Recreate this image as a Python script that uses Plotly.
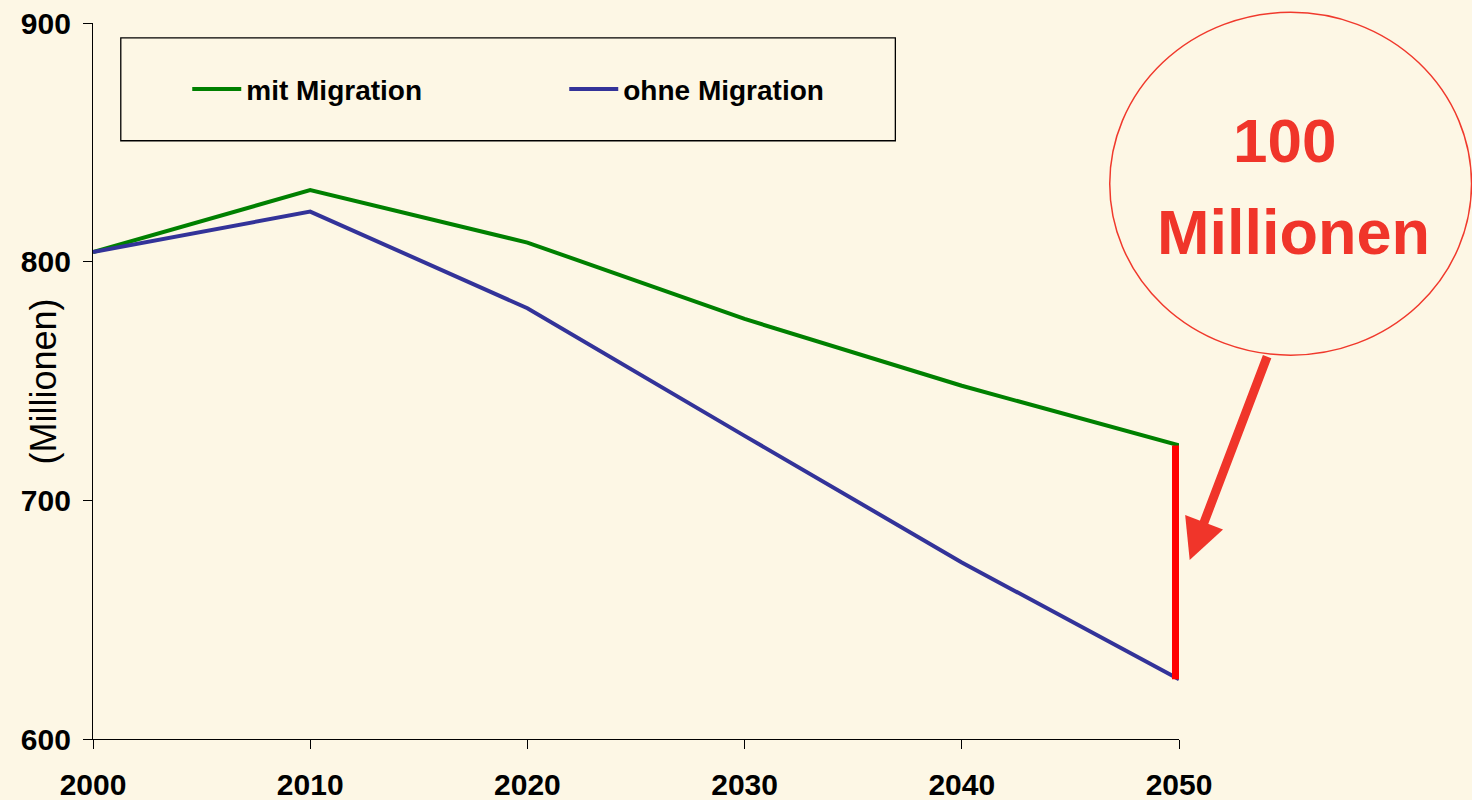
import plotly.graph_objects as go

years = [2000, 2010, 2020, 2030, 2040, 2050]
mit_migration = [804, 830, 808, 776, 748, 723]
ohne_migration = [804, 821, 780.5, 727, 674, 625]
y_ticks = [600, 700, 800, 900]
x_ticks = [2000, 2010, 2020, 2030, 2040, 2050]

BG = "#FDF7E5"
W, H = 1472, 800
L, R, T, B = 92.7, 1472 - 1179.3, 22.7, 800 - 739
PW, PH = W - L - R, H - T - B


def px(x):
    return (x - L) / PW


def py(y):
    return (H - B - y) / PH


fig = go.Figure()
fig.add_trace(go.Scatter(x=years, y=mit_migration, mode="lines", name="mit Migration",
                         line=dict(color="#008000", width=4)))
fig.add_trace(go.Scatter(x=years, y=ohne_migration, mode="lines", name="ohne Migration",
                         line=dict(color="#333399", width=4)))
# difference bar at the last year (half of it is clipped at the plot edge)
fig.add_trace(go.Scatter(x=[years[-1], years[-1]], y=[mit_migration[-1], ohne_migration[-1]],
                         mode="lines", showlegend=False, line=dict(color="#FF0000", width=14)))

tickfont = dict(family="Liberation Sans, Arial, sans-serif", size=30, color="black", weight="bold")

fig.update_layout(
    width=W, height=H,
    margin=dict(l=L, r=R, t=T, b=B, pad=0, autoexpand=False),
    paper_bgcolor=BG, plot_bgcolor=BG,
    showlegend=True,
    legend=dict(orientation="h", x=px(187), y=py(89), xanchor="left", yanchor="middle",
                xref="paper", yref="paper",
                bgcolor="rgba(0,0,0,0)", borderwidth=0,
                itemwidth=49,
                entrywidth=313, entrywidthmode="pixels",
                font=dict(family="Liberation Sans Narrow, Liberation Sans, Arial, sans-serif",
                          size=28, color="black", weight="bold")),
    xaxis=dict(range=[2000, 2050], tickvals=x_ticks, ticktext=[str(v) for v in x_ticks],
               showgrid=False, zeroline=False, showline=True, linecolor="black", linewidth=1.3,
               ticks="outside", ticklen=9, tickcolor="black", tickwidth=1.3, automargin=False,
               tickfont=tickfont, ticklabelstandoff=10, fixedrange=True),
    yaxis=dict(range=[600, 900], tickvals=y_ticks, ticktext=[str(v) for v in y_ticks],
               showgrid=False, zeroline=False, showline=True, linecolor="black", linewidth=1.3,
               ticks="outside", ticklen=9, tickcolor="black", tickwidth=1.3, automargin=False,
               tickfont=tickfont, ticklabelstandoff=6, fixedrange=True),
    shapes=[
        dict(type="rect", xref="paper", yref="paper", x0=px(120.5), x1=px(895.5), y0=py(140.5), y1=py(37.5),
             line=dict(color="black", width=1.3), fillcolor="rgba(0,0,0,0)", layer="above"),
        dict(type="circle", xref="paper", yref="paper", x0=px(1110), x1=px(1472), y0=py(355), y1=py(12),
             line=dict(color="#F0392C", width=1.5), fillcolor="rgba(0,0,0,0)", layer="above"),
    ],
    annotations=[
        dict(text="(Millionen)", xref="paper", yref="paper", x=px(43), y=py(381),
             xanchor="center", yanchor="middle", textangle=-90, showarrow=False,
             font=dict(family="Liberation Sans, Arial, sans-serif", size=36, color="black")),
        dict(text="100", xref="paper", yref="paper", x=px(1285), y=py(140),
             xanchor="center", yanchor="middle", showarrow=False,
             font=dict(family="Liberation Sans, Arial, sans-serif", size=62, color="#F0352A", weight="bold")),
        dict(text="Millionen", xref="paper", yref="paper", x=px(1294), y=py(232),
             xanchor="center", yanchor="middle", showarrow=False,
             font=dict(family="Liberation Sans, Arial, sans-serif", size=63, color="#F0352A", weight="bold")),
        dict(text="", xref="paper", yref="paper", x=px(1190), y=py(560),
             ax=1268 - 1190, ay=355 - 560, axref="pixel", ayref="pixel",
             showarrow=True, arrowhead=2, arrowsize=0.9, arrowwidth=9, arrowcolor="#F0352A",
             standoff=0, startstandoff=0),
    ],
)

fig.write_html("out.html", post_script="document.body.style.margin='0';",
               config={"displayModeBar": False})
